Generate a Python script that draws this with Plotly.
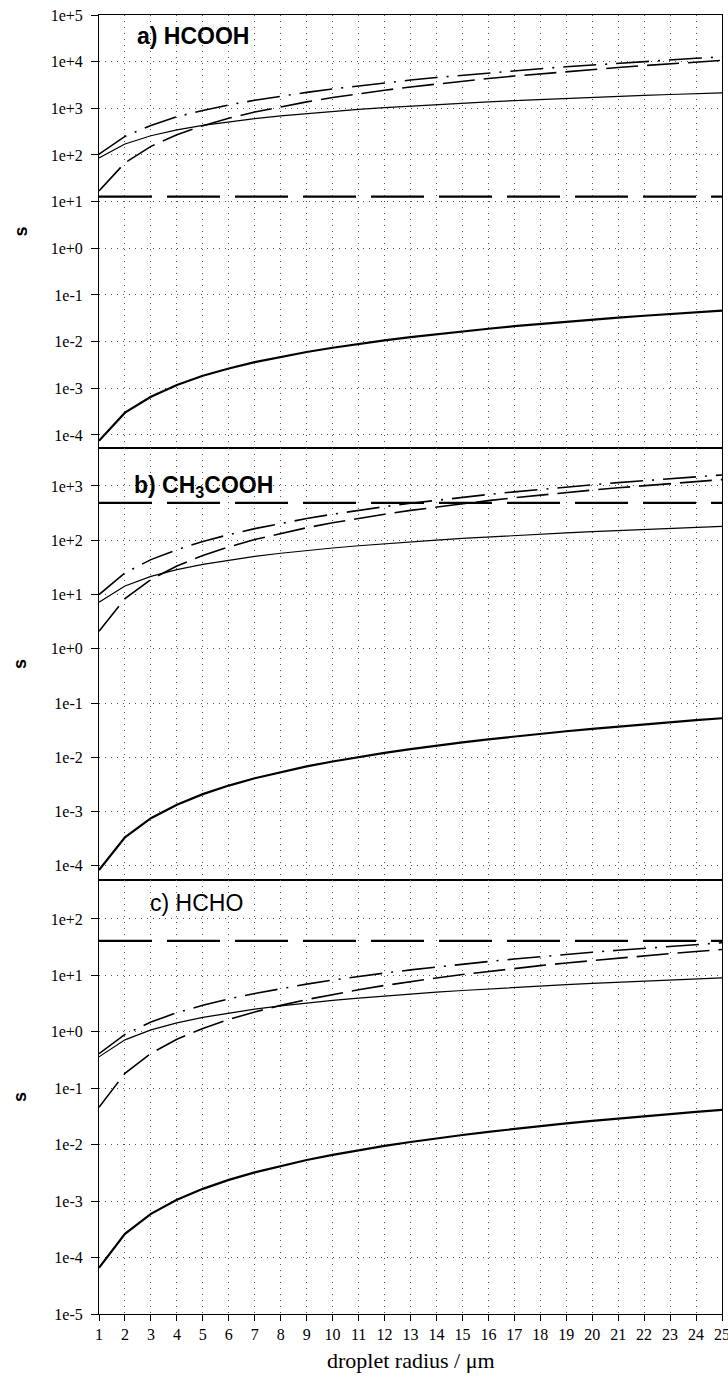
import plotly.graph_objects as go

# ---------------- data ----------------
radius = list(range(1, 26))

# a) HCOOH
a_thick = [7.5e-5, 3.0e-4, 6.6e-4, 1.18e-3, 1.85e-3, 2.66e-3, 3.63e-3, 4.74e-3, 6.0e-3, 7.4e-3,
           8.95e-3, 0.01066, 0.0125, 0.0145, 0.01665, 0.0189, 0.0214, 0.024, 0.0267, 0.0296,
           0.0326, 0.0358, 0.0391, 0.0426, 0.0463]
a_thin = [86, 172, 258, 344, 430, 516, 602, 688, 774, 860, 946, 1032, 1118, 1204, 1290,
          1376, 1462, 1548, 1634, 1720, 1806, 1892, 1978, 2064, 2150]
a_dash = [17, 68, 153, 272, 425, 612, 833, 1088, 1377, 1700, 2057, 2448, 2873, 3332, 3825,
          4352, 4913, 5508, 6137, 6800, 7497, 8228, 8993, 9792, 10625]
a_dashdot = [104, 250, 430, 660, 900, 1180, 1490, 1830, 2200, 2610, 3050, 3520, 4030, 4570,
             5140, 5750, 6390, 7060, 7770, 8510, 9290, 10100, 10940, 11810, 12700]
a_const = 12.8

# b) CH3COOH
b_thick = [8.4e-5, 3.36e-4, 7.56e-4, 1.34e-3, 2.1e-3, 3.02e-3, 4.12e-3, 5.38e-3, 6.8e-3, 8.4e-3,
           0.0102, 0.0121, 0.0142, 0.0165, 0.0189, 0.0215, 0.0243, 0.0272, 0.0303, 0.0336,
           0.037, 0.0407, 0.0444, 0.0484, 0.0525]
b_thin = [7.2, 14.4, 21.6, 28.8, 36, 43.2, 50.4, 57.6, 64.8, 72, 79.2, 86.4, 93.6, 100.8, 108,
          115.2, 122.4, 129.6, 136.8, 144, 151.2, 158.4, 165.6, 172.8, 180]
b_dash = [2.1, 8.4, 18.9, 33.6, 52.5, 75.6, 102.9, 134.4, 170.1, 210, 254.1, 302.4, 354.9,
          411.6, 472.5, 537.6, 606.9, 680.4, 758.1, 840, 926.1, 1016.4, 1110.9, 1209.6, 1312.5]
b_dashdot = [10, 25, 44, 67, 95, 127, 164, 205, 251, 302, 357, 416, 480, 548, 621, 698, 780,
             867, 958, 1053, 1153, 1257, 1366, 1479, 1597]
b_const = 490

# c) HCHO
c_thick = [6.6e-5, 2.64e-4, 5.94e-4, 1.056e-3, 1.65e-3, 2.38e-3, 3.23e-3, 4.22e-3, 5.35e-3,
           6.6e-3, 7.99e-3, 9.5e-3, 0.01115, 0.01294, 0.01485, 0.0169, 0.0191, 0.0214, 0.0238,
           0.0264, 0.0291, 0.0319, 0.0349, 0.038, 0.0413]
c_thin = [0.36, 0.72, 1.08, 1.44, 1.8, 2.16, 2.52, 2.88, 3.24, 3.6, 3.96, 4.32, 4.68, 5.04, 5.4,
          5.76, 6.12, 6.48, 6.84, 7.2, 7.56, 7.92, 8.28, 8.64, 9.0]
c_dash = [0.046, 0.184, 0.414, 0.736, 1.15, 1.656, 2.254, 2.944, 3.726, 4.6, 5.566, 6.624,
          7.774, 9.016, 10.35, 11.78, 13.29, 14.9, 16.61, 18.4, 20.29, 22.26, 24.33, 26.5, 28.75]
c_dashdot = [0.41, 0.90, 1.49, 2.18, 2.96, 3.83, 4.79, 5.85, 7.0, 8.25, 9.6, 11.0, 12.5, 14.1,
             15.8, 17.6, 19.5, 21.5, 23.5, 25.7, 27.9, 30.2, 32.6, 35.1, 37.8]
c_const = 41

panel_titles = ["<b>a) HCOOH</b>", "<b>b) CH<sub>3</sub>COOH</b>", "c) HCHO"]
y_tick_exps = [list(range(-4, 6)), list(range(-4, 4)), list(range(-5, 3))]
y_ranges = [[-4.28, 5.0], [-4.26, 3.70], [-5.0, 2.69]]
x_tick_labels = [str(v) for v in radius]

panels = [
    (a_thick, a_thin, a_dash, a_dashdot, a_const),
    (b_thick, b_thin, b_dash, b_dashdot, b_const),
    (c_thick, c_thin, c_dash, c_dashdot, c_const),
]

# ---------------- figure ----------------
W, H = 728, 1382
ML, MR, MT, MB = 99, 6, 15, 68
plot_h = H - MT - MB
bounds_px = [15, 448, 880, 1314]
domains = []
for i in range(3):
    y_top = (H - MB - bounds_px[i]) / plot_h
    y_bot = (H - MB - bounds_px[i + 1]) / plot_h
    domains.append([max(0.0, y_bot), min(1.0, y_top)])

fig = go.Figure()

serif = "Liberation Serif"
sans = "Liberation Sans"
tick_font = dict(family=serif, size=16, color="black")

axes_layout = {}
for i, (thick, thin, dash, dashdot, const) in enumerate(panels):
    xa = "x" if i == 0 else f"x{i+1}"
    ya = "y" if i == 0 else f"y{i+1}"
    fig.add_trace(go.Scatter(x=radius, y=thick, mode="lines", xaxis=xa, yaxis=ya,
                             line=dict(color="black", width=2.2), showlegend=False))
    fig.add_trace(go.Scatter(x=[radius[0], radius[-1]], y=[const, const], mode="lines",
                             xaxis=xa, yaxis=ya,
                             line=dict(color="black", width=2.2, dash="53px,15px"),
                             showlegend=False))
    fig.add_trace(go.Scatter(x=radius, y=thin, mode="lines", xaxis=xa, yaxis=ya,
                             line=dict(color="black", width=1.2), showlegend=False))
    fig.add_trace(go.Scatter(x=radius, y=dash, mode="lines", xaxis=xa, yaxis=ya,
                             line=dict(color="black", width=1.6, dash="32px,9px"),
                             showlegend=False))
    fig.add_trace(go.Scatter(x=radius, y=dashdot, mode="lines", xaxis=xa, yaxis=ya,
                             line=dict(color="black", width=1.6, dash="33px,9px,2px,9px"),
                             showlegend=False))

    exps = y_tick_exps[i]
    xkey = "xaxis" if i == 0 else f"xaxis{i+1}"
    ykey = "yaxis" if i == 0 else f"yaxis{i+1}"
    axes_layout[xkey] = dict(
        domain=[0, 1], anchor=ya, range=[1, 25],
        tickmode="array", tickvals=radius, ticktext=x_tick_labels,
        showticklabels=(i == 2), ticks="outside" if i == 2 else "",
        ticklen=6, tickcolor="black", ticklabeloverflow="allow",
        showline=True, linecolor="black", linewidth=1, mirror=True,
        showgrid=True, gridcolor="#555555", gridwidth=1, griddash="1px,5px",
        zeroline=False,
        tickfont=tick_font,
    )
    axes_layout[ykey] = dict(
        domain=domains[i], anchor=xa, type="log", range=y_ranges[i],
        tickmode="array",
        tickvals=[10.0 ** e for e in exps],
        ticktext=[f"1e{'+' if e >= 0 else '-'}{abs(e)}" for e in exps],
        ticks="outside", ticklen=7, tickcolor="black", ticklabelstandoff=5,
        showline=True, linecolor="black", linewidth=1, mirror=True,
        showgrid=True, gridcolor="#555555", gridwidth=1, griddash="1px,5px",
        zeroline=False,
        tickfont=tick_font,
    )
    fig.add_annotation(xref="paper", yref="paper",
                       x=(20 - ML) / (W - ML - MR), y=sum(domains[i]) / 2,
                       text="<b>s</b>", showarrow=False, textangle=-90,
                       font=dict(family=sans, size=18, color="black"),
                       xanchor="center", yanchor="middle")

title_pos = [(135, 36), (132, 487), (148, 903)]
for (px, py), txt in zip(title_pos, panel_titles):
    fig.add_annotation(xref="paper", yref="paper",
                       x=(px - ML) / (W - ML - MR), y=(H - MB - py) / plot_h,
                       text=txt, showarrow=False, xanchor="left", yanchor="middle",
                       font=dict(family=sans, size=23, color="black"))

fig.add_annotation(xref="paper", yref="paper", x=0.5, y=(H - MB - 1360) / plot_h,
                   text="droplet radius / \u03bcm", showarrow=False,
                   xanchor="center", yanchor="middle",
                   font=dict(family=serif, size=22, color="black"))

fig.update_layout(
    width=W, height=H,
    margin=dict(l=ML, r=MR, t=MT, b=MB, autoexpand=False),
    paper_bgcolor="white", plot_bgcolor="white",
    showlegend=False,
    font=dict(family=serif, size=16, color="black"),
    **axes_layout,
)

fig.write_html("out.html")
